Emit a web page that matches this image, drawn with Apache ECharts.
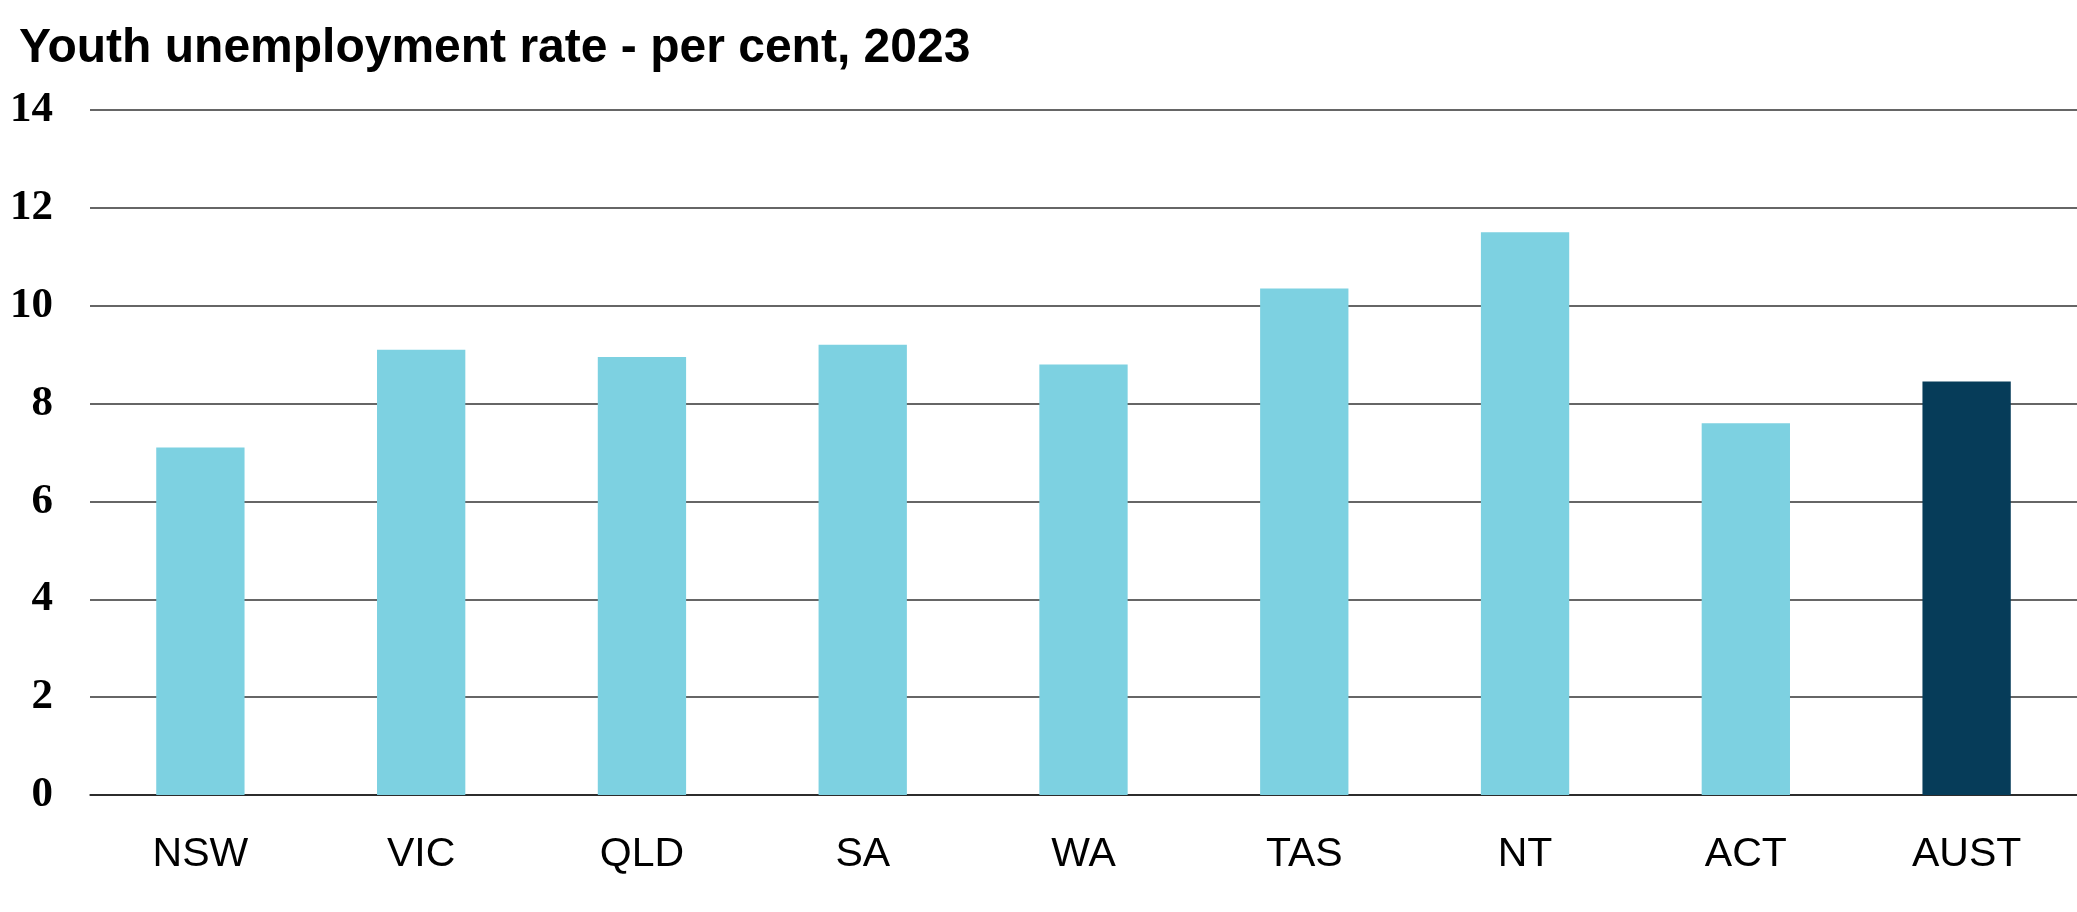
<!DOCTYPE html>
<html>
<head>
<meta charset="utf-8">
<script src="https://cdn.jsdelivr.net/npm/echarts@6/dist/echarts.min.js"></script>
<style>
html,body{margin:0;padding:0;background:#fff;}
#chart{width:2077px;height:912px;}
</style>
</head>
<body>
<div id="chart"></div>
<script>
const titleText = 'Youth unemployment rate - per cent, 2023';
const categories = ['NSW','VIC','QLD','SA','WA','TAS','NT','ACT','AUST'];
const values = [7.1, 9.1, 8.95, 9.2, 8.8, 10.35, 11.5, 7.6, 8.45];
const highlight = ['AUST'];
const yTicks = [0, 2, 4, 6, 8, 10, 12, 14];

const lightColor = '#7DD1E1';
const darkColor = '#063C59';

const chart = echarts.init(document.getElementById('chart'), null, {renderer: 'canvas'});
chart.setOption({
  backgroundColor: '#ffffff',
  animation: false,
  title: {
    text: titleText,
    left: 14,
    top: 20,
    textStyle: {
      fontFamily: 'Liberation Sans, Arial, sans-serif',
      fontWeight: 'bold',
      fontSize: 48,
      color: '#000'
    }
  },
  grid: {
    left: 90,
    right: 0,
    top: 110,
    bottom: 117,
    containLabel: false
  },
  xAxis: {
    type: 'category',
    data: categories,
    axisTick: {show: false},
    axisLine: {show: true, lineStyle: {color: '#1a1a1a', width: 1.5}},
    axisLabel: {
      margin: 39,
      fontFamily: 'Liberation Sans, Arial, sans-serif',
      fontSize: 41,
      color: '#000'
    }
  },
  yAxis: {
    type: 'value',
    min: yTicks[0],
    max: yTicks[yTicks.length - 1],
    interval: 2,
    axisLine: {show: false},
    axisTick: {show: false},
    splitLine: {show: true, lineStyle: {color: '#333333', width: 1.5}},
    axisLabel: {
      margin: 37,
      fontFamily: 'Liberation Serif, Times New Roman, serif',
      fontWeight: 'bold',
      fontSize: 43,
      color: '#000'
    }
  },
  series: [{
    type: 'bar',
    barWidth: '40%',
    data: values.map((v, i) => ({
      value: v,
      itemStyle: {color: highlight.includes(categories[i]) ? darkColor : lightColor}
    }))
  }]
});
</script>
</body>
</html>
